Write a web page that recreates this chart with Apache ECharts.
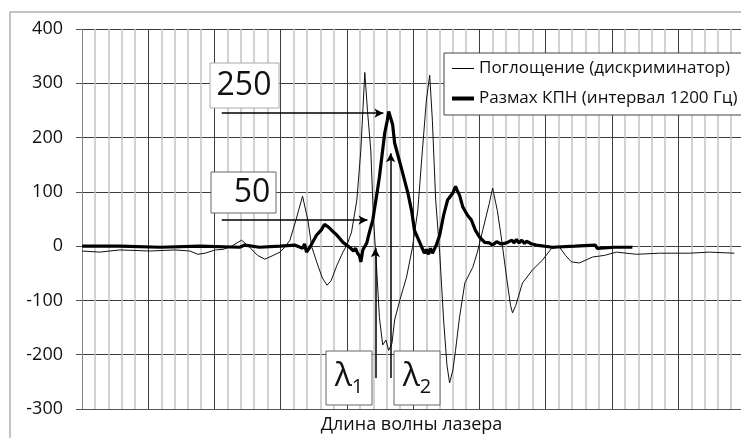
<!DOCTYPE html>
<html>
<head>
<meta charset="utf-8">
<script src="https://cdn.jsdelivr.net/npm/echarts@6/dist/echarts.min.js"></script>
<style>
    html, body { margin: 0; padding: 0; background: #fff; }
    #main { width: 741px; height: 438px; }
</style>
</head>
<body>
<div id="main"></div>
<script>
// x is laser wavelength in arbitrary units (no labels on the axis)
var absName = 'Поглощение (дискриминатор)';
var kpnName = 'Размах КПН (интервал 1200 Гц)';

var absX = [0, 27, 57, 103, 140, 163, 175, 186, 201, 213, 226, 241, 253, 265, 276, 287, 299, 306, 314, 323,
    333, 341, 347, 356, 363, 370, 376, 385, 394, 400, 407, 415, 421, 427, 431, 436, 440, 445, 449, 454,
    459, 463, 468, 472, 480, 490, 499, 507, 514, 520, 525, 529, 534, 540, 546, 551, 555, 560, 564, 570,
    578, 590, 597, 605, 615, 620, 627, 633, 641, 647, 650, 655, 658, 665, 680, 695, 709, 721, 730, 739,
    751, 771, 789, 807, 837, 872, 917, 947, 985];
var absY = [-9, -11, -7, -9, -7, -9, -15, -13, -7, -6, 0, 11, -2, -17, -24, -18, -11, -2, 11, 48,
    92, 48, -2, -35, -59, -72, -64, -35, -11, 2, 26, 85, 177, 320, 250, 177, 53, -44, -131, -182,
    -173, -192, -179, -136, -99, -57, -2, 66, 177, 269, 315, 232, 85, -11, -136, -219, -252, -228, -192, -131,
    -68, -39, -11, 29, 79, 107, 66, 17, -57, -109, -123, -109, -112, -68, -44, -26, -4, -2, -17, -29,
    -31, -20, -17, -11, -15, -13, -13, -11, -13];

var kpnX = [0, 57, 118, 178, 238, 246, 268, 299, 321, 333, 336, 339, 344, 354, 362, 366, 370, 374, 377, 385,
    394, 404, 410, 413, 416, 419, 421, 424, 430, 434, 439, 445, 449, 457, 461, 463, 466, 469, 472, 483,
    492, 498, 502, 513, 517, 520, 523, 526, 529, 531, 535, 540, 546, 552, 560, 564, 566, 570, 575, 582,
    588, 594, 600, 608, 615, 620, 626, 633, 641, 649, 652, 656, 660, 664, 668, 671, 679, 686, 710, 744,
    775, 778, 781, 804, 831];
var kpnY = [0, 0, -2, 0, -2, 2, -2, 0, 2, -4, 4, -11, -2, 20, 31, 40, 37, 33, 29, 20,
    7, -2, -9, -4, -13, -18, -29, -7, 6, 26, 48, 94, 127, 208, 232, 248, 236, 224, 190, 140,
    98, 63, 29, -2, -13, -6, -15, -4, -13, -15, 2, 20, 57, 85, 98, 110, 104, 94, 72, 57,
    48, 29, 17, 7, 6, 2, 8, 4, 6, 11, 6, 12, 6, 11, 5, 9,
    4, 2, -2, 0, 2, -4, -2, -2, -2];

// annotation arrows, in data coordinates: [x1, y1, x2, y2]
var arrows = [
    [211, 245, 455, 245],
    [211, 48, 431, 48],
    [443, -243, 443, -4],
    [466, -243, 466, 171]
];

function zip(xs, ys) {
    return xs.map(function (x, i) { return [x, ys[i]]; });
}

var font = '"Open Sans", "Noto Sans", sans-serif';

function box(x, y, w, h, text, textX, textY, stroke) {
    return {
        type: 'group',
        children: [{
            type: 'rect',
            z: 100,
            shape: {x: x, y: y, width: w, height: h},
            style: {fill: '#fff', stroke: stroke, lineWidth: 1}
        }, {
            type: 'text',
            z: 101,
            x: textX,
            y: textY,
            style: {
                text: text,
                fontFamily: font,
                fontSize: 32,
                fill: '#111',
                align: 'center',
                verticalAlign: 'middle',
                rich: {
                    l: {fontFamily: font, fontSize: 32, fill: '#111'},
                    s: {fontFamily: font, fontSize: 20, fill: '#111', padding: [20, 0, 0, 0]}
                }
            }
        }]
    };
}

var myChart = echarts.init(document.getElementById('main'), null, {renderer: 'canvas'});

var option = {
    animation: false,
    backgroundColor: '#fff',
    grid: {left: 82, right: 0, top: 29, bottom: 29, containLabel: false, outerBoundsMode: 'none'},
    legend: {
        orient: 'vertical',
        left: 444,
        top: 53,
        padding: [7, 6, 8, 8],
        itemGap: 13,
        itemWidth: 22,
        itemHeight: 18,
        backgroundColor: '#fff',
        borderColor: '#444',
        borderWidth: 1,
        z: 50,
        textStyle: {fontFamily: font, fontSize: 17, color: '#111'},
        itemStyle: {color: '#000'},
        data: [
            {name: absName, icon: 'path://M0,0h22v1h-22z'},
            {name: kpnName, icon: 'path://M0,0h22v4h-22z'}
        ]
    },
    xAxis: {
        type: 'value',
        min: 0,
        max: 995,
        interval: 100,
        name: 'Длина волны лазера',
        nameLocation: 'middle',
        nameGap: 7,
        nameTextStyle: {fontFamily: font, fontSize: 18, color: '#111'},
        axisLine: {show: true, onZero: false, lineStyle: {color: '#555'}},
        axisTick: {show: false},
        axisLabel: {show: false},
        splitLine: {show: true, lineStyle: {color: '#3c3c3c', width: 1}},
        minorTick: {show: false, splitNumber: 5},
        minorSplitLine: {show: true, lineStyle: {color: '#c4c4c4', width: 1.5}}
    },
    yAxis: {
        type: 'value',
        min: -300,
        max: 400,
        interval: 100,
        axisLine: {show: true, lineStyle: {color: '#888'}},
        axisTick: {show: true, length: 6, lineStyle: {color: '#555'}},
        axisLabel: {margin: 19, fontFamily: font, fontSize: 18, color: '#111'},
        splitLine: {show: true, lineStyle: {color: '#3c3c3c', width: 1}}
    },
    series: [{
        name: absName,
        type: 'line',
        data: zip(absX, absY),
        symbol: 'none',
        lineStyle: {color: '#111', width: 1},
        itemStyle: {color: '#111'},
        markLine: {
            silent: true,
            symbol: ['none', 'arrow'],
            symbolSize: [7, 9],
            label: {show: false},
            lineStyle: {color: '#000', width: 1.5, type: 'solid'},
            data: arrows.map(function (a) {
                return [{coord: [a[0], a[1]]}, {coord: [a[2], a[3]]}];
            })
        }
    }, {
        name: kpnName,
        type: 'line',
        data: zip(kpnX, kpnY),
        symbol: 'none',
        lineStyle: {color: '#000', width: 3.2},
        itemStyle: {color: '#000'}
    }],
    graphic: [
        {
            type: 'rect',
            z: 0,
            shape: {x: 10, y: 12, width: 800, height: 500},
            style: {fill: 'none', stroke: '#888', lineWidth: 1}
        },
        box(210, 63, 69, 45, '250', 244, 86, '#aaa'),
        box(211, 172, 65, 41, '50', 252, 193, '#666'),
        box(326, 351, 46, 54, '{l|λ}{s|1}', 349, 377, '#666'),
        box(394, 351, 46, 54, '{l|λ}{s|2}', 417, 377, '#666')
    ]
};

myChart.setOption(option);
</script>
</body>
</html>
